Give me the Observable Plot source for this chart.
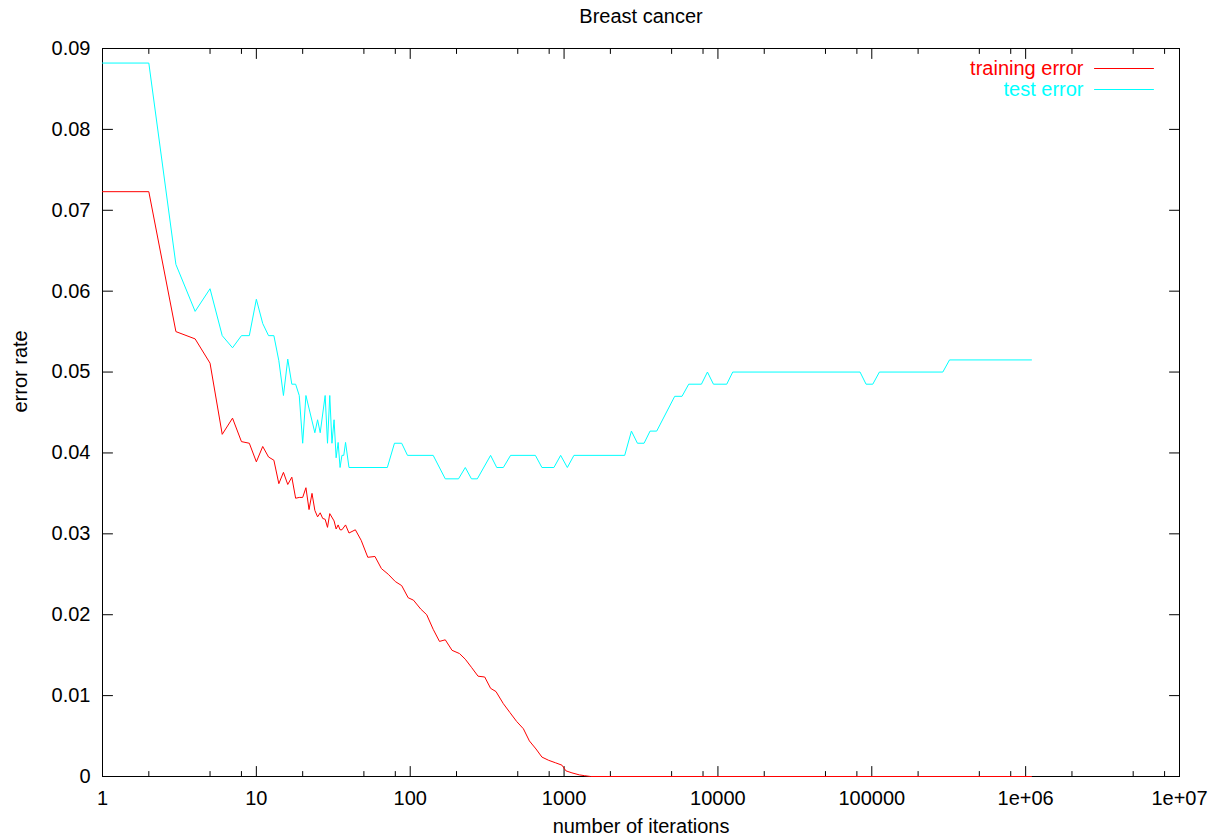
<!DOCTYPE html>
<html>
<head>
<meta charset="utf-8">
<script src="https://cdn.jsdelivr.net/npm/d3@7"></script>
<script src="https://cdn.jsdelivr.net/npm/@observablehq/plot@0.6"></script>
<style>
  html, body { margin: 0; padding: 0; background: #fff; }
  #chart svg { display: block; }
</style>
</head>
<body>
<div id="chart"></div>
<script>
const chartTitle = "Breast cancer";
const xLabel = "number of iterations";
const yLabel = "error rate";
const seriesNames = ["training error", "test error"];
const seriesColors = ["#ff0000", "#00ffff"];

const xMajorTicks = [1, 10, 100, 1000, 10000, 100000, 1000000, 10000000];
const xTickLabels = ["1", "10", "100", "1000", "10000", "100000", "1e+06", "1e+07"];
const xMinorTicks = [2, 5, 8, 20, 50, 80, 200, 500, 800, 2000, 5000, 8000, 20000, 50000, 80000,
  200000, 500000, 800000, 2000000, 5000000, 8000000];
const yTicks = [0, 0.01, 0.02, 0.03, 0.04, 0.05, 0.06, 0.07, 0.08, 0.09];
const yTickLabels = ["0", "0.01", "0.02", "0.03", "0.04", "0.05", "0.06", "0.07", "0.08", "0.09"];

const trainIter = [1,2,3,4,5,6,7,8,9,10,11,12,13,14,15,16,17,18,19,20,21,22,23,24,25,26,27,28,29,30,
  32,33,34,35,36,38,40,
  44,48,53,59,65,72,80,88,97,105,117,128,141,155,169,187,209,228,250,276,305,333,361,403,445,492,544,595,657,
  718,794,878,969,1028,1125,1257,1361,1489,1091000];
const trainErr = [0.0723,0.0723,0.0550,0.0541,0.0511,0.0423,0.0443,0.0414,0.0412,0.0389,
  0.0408,0.0395,0.0391,0.0362,0.0376,0.0361,0.0370,0.0344,0.0345,0.0345,
  0.0357,0.0330,0.0350,0.0329,0.0321,0.0326,0.0319,0.0318,0.0308,0.0325,
  0.0316,0.0306,0.0311,0.0305,0.0305,0.0311,0.0301,
  0.0305,0.0292,0.0271,0.0272,0.0257,0.0250,0.0241,0.0236,0.0221,
  0.0218,0.0207,0.0200,0.0182,0.0167,0.0169,0.0156,0.0152,0.0145,0.0135,
  0.0124,0.0123,0.0109,0.0105,0.0090,0.0079,0.0068,0.0059,0.0044,0.0034,
  0.0024,0.0020,0.0017,0.0014,0.0007,0.00045,0.0002,0.0001,0,0];

const testIter = [1,2,3,4,5,6,7,8,9,10,11,12,13,14,15,16,17,18,19,20,21,
  24,25,26,28,29,30,31,32,33,34,35,36,37,38,40,
  71,79,88,96,141,169,206,228,250,273,
  333,365,403,449,651,718,859,950,1050,1159,
  2478,2740,2998,3311,3622,4000,5237,5843,6458,7810,
  8547,9351,11410,12480,83900,91800,101500,112100,289500,320100,
  1091000];
const testErr = [0.0882,0.0882,0.0633,0.0575,0.0603,0.0545,0.0530,0.0545,0.0545,0.0590,
  0.0560,0.0545,0.0545,0.0514,0.0471,0.0516,0.0485,0.0485,0.0471,0.0412,0.0471,
  0.0425,0.0441,0.0425,0.0471,0.0412,0.0471,0.0412,0.0441,0.0394,0.0413,0.0382,0.0397,0.0397,0.0413,0.0382,
  0.0382,0.0412,0.0412,0.0397,0.0397,0.0368,0.0368,0.0382,0.0368,0.0368,
  0.0397,0.0382,0.0382,0.0397,0.0397,0.0382,0.0382,0.0397,0.0382,0.0397,
  0.0397,0.0427,0.0412,0.0412,0.0427,0.0427,0.0470,0.0470,0.0485,0.0485,
  0.0500,0.0485,0.0485,0.0500,0.0500,0.0485,0.0485,0.0500,0.0500,0.0515,
  0.0515];

const trainData = trainIter.map((x, i) => ({x, y: trainErr[i]}));
const testData = testIter.map((x, i) => ({x, y: testErr[i]}));

const lineShape = {draw(context, l) { context.moveTo(0, 0); context.lineTo(0, -l); }};
const tickVec = (ticks, axis, anchor, rotate, length) => Plot.vector(ticks, {
  [axis]: d => d, frameAnchor: anchor, rotate, length, anchor: "start",
  shape: lineShape, stroke: "black", strokeWidth: 1
});

const FONT = "'Liberation Sans', Arial, Helvetica, sans-serif";

const chart = Plot.plot({
  width: 1219,
  height: 839,
  marginLeft: 102,
  marginRight: 40,
  marginTop: 48,
  marginBottom: 63,
  style: {fontFamily: FONT, fontSize: "20px", color: "black", background: "white"},
  x: {type: "log", domain: [1, 1e7]},
  y: {domain: [0, 0.09]},
  marks: [
    Plot.frame({stroke: "black", strokeWidth: 1}),
    Plot.axisX({ticks: xMajorTicks, tickSize: 0, tickPadding: 14, fontSize: 20,
      tickFormat: d => xTickLabels[xMajorTicks.indexOf(d)], label: null}),
    Plot.axisY({ticks: yTicks, tickSize: 0, tickPadding: 12, fontSize: 20,
      tickFormat: d => yTickLabels[yTicks.indexOf(d)], label: null}),
    tickVec(xMajorTicks, "x", "bottom", 0, 10),
    tickVec(xMajorTicks, "x", "top", 180, 10),
    tickVec(xMinorTicks, "x", "bottom", 0, 5),
    tickVec(xMinorTicks, "x", "top", 180, 5),
    tickVec(yTicks, "y", "left", 90, 10),
    tickVec(yTicks, "y", "right", -90, 10),
    Plot.line(trainData, {x: "x", y: "y", stroke: seriesColors[0], strokeWidth: 1}),
    Plot.line(testData, {x: "x", y: "y", stroke: seriesColors[1], strokeWidth: 1}),
    Plot.text([chartTitle], {text: d => d, frameAnchor: "top", dy: -32, lineAnchor: "middle", fontSize: 20}),
    Plot.text([xLabel], {text: d => d, frameAnchor: "bottom", dy: 50, lineAnchor: "middle", fontSize: 20}),
    Plot.text([yLabel], {text: d => d, frameAnchor: "left", dx: -82, rotate: -90, lineAnchor: "middle", fontSize: 20}),
    Plot.text([seriesNames[0]], {text: d => d, frameAnchor: "top-right", dx: -96, dy: 20,
      textAnchor: "end", lineAnchor: "middle", fill: seriesColors[0], fontSize: 20}),
    Plot.text([seriesNames[1]], {text: d => d, frameAnchor: "top-right", dx: -96, dy: 41,
      textAnchor: "end", lineAnchor: "middle", fill: seriesColors[1], fontSize: 20}),
    Plot.vector([seriesNames[0]], {frameAnchor: "top-right", dx: -85, dy: 20, rotate: 90, length: 59,
      anchor: "start", shape: lineShape, stroke: seriesColors[0], strokeWidth: 1}),
    Plot.vector([seriesNames[1]], {frameAnchor: "top-right", dx: -85, dy: 41, rotate: 90, length: 59,
      anchor: "start", shape: lineShape, stroke: seriesColors[1], strokeWidth: 1})
  ]
});
document.getElementById("chart").appendChild(chart);
</script>
</body>
</html>
